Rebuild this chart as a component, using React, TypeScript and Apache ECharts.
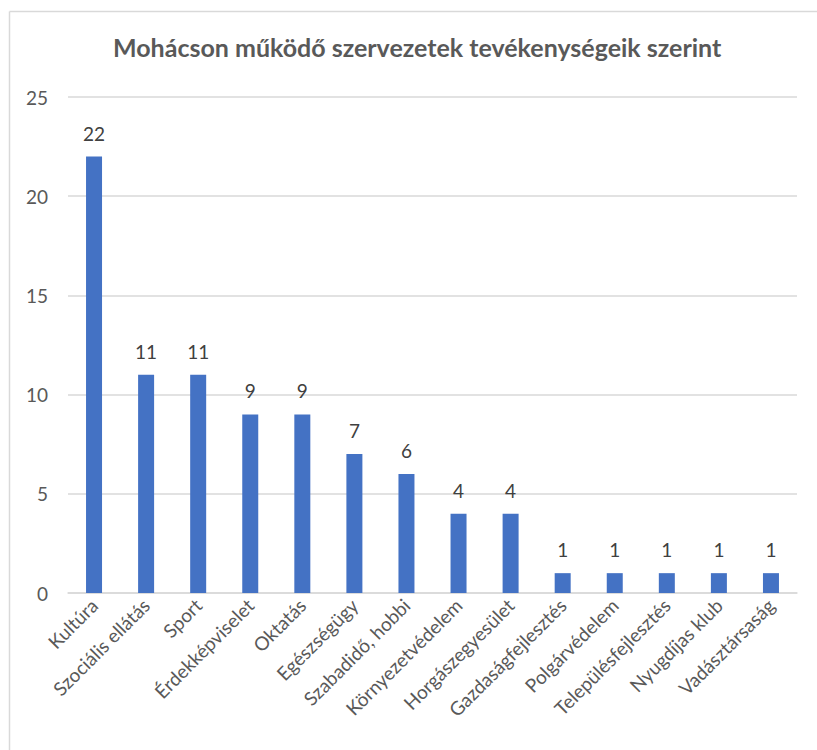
import React, { useEffect, useRef } from "react";
import * as echarts from "echarts";

const categories = [
  "Kultúra",
  "Szociális ellátás",
  "Sport",
  "Érdekképviselet",
  "Oktatás",
  "Egészségügy",
  "Szabadidő, hobbi",
  "Környezetvédelem",
  "Horgászegyesület",
  "Gazdaságfejlesztés",
  "Polgárvédelem",
  "Településfejlesztés",
  "Nyugdíjas klub",
  "Vadásztársaság",
];
const values = [22, 11, 11, 9, 9, 7, 6, 4, 4, 1, 1, 1, 1, 1];
const titleText = "Mohácson működő szervezetek tevékenységeik szerint";
const FONT = "Lato, 'Open Sans', sans-serif";

export default function App() {
  const ref = useRef<HTMLDivElement>(null);
  useEffect(() => {
    if (!ref.current) return;
    const chart = echarts.init(ref.current, undefined, { renderer: "svg" });
    chart.setOption({
      animation: false,
      backgroundColor: "#ffffff",
      textStyle: { fontFamily: FONT },
      title: {
        text: titleText,
        left: 113,
        top: 34,
        padding: 0,
        textStyle: { fontSize: 25, fontWeight: "bold", color: "#595959", fontFamily: FONT },
      },
      graphic: [
        { type: "line", shape: { x1: 9.5, y1: 11.5, x2: 9.5, y2: 760 }, style: { stroke: "#d9d9d9", lineWidth: 1.5 } },
        { type: "line", shape: { x1: 9.5, y1: 11.5, x2: 820, y2: 11.5 }, style: { stroke: "#d9d9d9", lineWidth: 1.5 } },
      ],
      grid: { left: 68, right: 20, top: 97, bottom: 157, containLabel: false },
      xAxis: {
        type: "category",
        data: categories,
        axisLine: { show: true, lineStyle: { color: "#d9d9d9", width: 1.5 } },
        axisTick: { show: false },
        axisLabel: { rotate: 45, fontSize: 19, color: "#595959", margin: 9, interval: 0, fontFamily: FONT },
      },
      yAxis: {
        type: "value",
        min: 0,
        max: 25,
        interval: 5,
        axisLine: { show: false },
        axisTick: { show: false },
        splitLine: { lineStyle: { color: "#d9d9d9", width: 1.5 } },
        axisLabel: { fontSize: 19, color: "#595959", margin: 20, fontFamily: FONT },
      },
      series: [
        {
          type: "bar",
          data: values,
          barWidth: 16,
          itemStyle: { color: "#4472c4" },
          label: { show: true, position: "top", distance: 14, fontSize: 19, color: "#404040", fontFamily: FONT },
        },
      ],
    });
    return () => chart.dispose();
  }, []);
  return <div ref={ref} style={{ position: "fixed", left: 0, top: 0, width: 817, height: 750 }} />;
}
